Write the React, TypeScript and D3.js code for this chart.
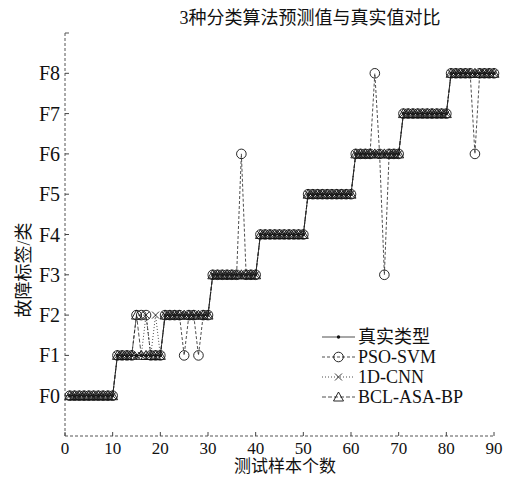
import React from 'react';
import * as d3 from 'd3';

// sample numbers 1..90 on the x axis
const samples = d3.range(1, 91);

const classLabels = ['F0', 'F1', 'F2', 'F3', 'F4', 'F5', 'F6', 'F7', 'F8'];
const xTicks = [0, 10, 20, 30, 40, 50, 60, 70, 80, 90];

const trueType = [
  0, 0, 0, 0, 0, 0, 0, 0, 0, 0,
  1, 1, 1, 1, 1, 1, 1, 1, 1, 1,
  2, 2, 2, 2, 2, 2, 2, 2, 2, 2,
  3, 3, 3, 3, 3, 3, 3, 3, 3, 3,
  4, 4, 4, 4, 4, 4, 4, 4, 4, 4,
  5, 5, 5, 5, 5, 5, 5, 5, 5, 5,
  6, 6, 6, 6, 6, 6, 6, 6, 6, 6,
  7, 7, 7, 7, 7, 7, 7, 7, 7, 7,
  8, 8, 8, 8, 8, 8, 8, 8, 8, 8,
];

const psoSvm = [
  0, 0, 0, 0, 0, 0, 0, 0, 0, 0,
  1, 1, 1, 1, 2, 2, 2, 1, 1, 1,
  2, 2, 2, 2, 1, 2, 2, 1, 2, 2,
  3, 3, 3, 3, 3, 3, 6, 3, 3, 3,
  4, 4, 4, 4, 4, 4, 4, 4, 4, 4,
  5, 5, 5, 5, 5, 5, 5, 5, 5, 5,
  6, 6, 6, 6, 8, 6, 3, 6, 6, 6,
  7, 7, 7, 7, 7, 7, 7, 7, 7, 7,
  8, 8, 8, 8, 8, 6, 8, 8, 8, 8,
];

const cnn1d = [
  0, 0, 0, 0, 0, 0, 0, 0, 0, 0,
  1, 1, 1, 1, 1, 1, 2, 1, 2, 1,
  2, 2, 2, 2, 2, 2, 2, 2, 2, 2,
  3, 3, 3, 3, 3, 3, 3, 3, 3, 3,
  4, 4, 4, 4, 4, 4, 4, 4, 4, 4,
  5, 5, 5, 5, 5, 5, 5, 5, 5, 5,
  6, 6, 6, 6, 6, 6, 6, 6, 6, 6,
  7, 7, 7, 7, 7, 7, 7, 7, 7, 7,
  8, 8, 8, 8, 8, 8, 8, 8, 8, 8,
];

const bclAsaBp = [
  0, 0, 0, 0, 0, 0, 0, 0, 0, 0,
  1, 1, 1, 1, 2, 1, 1, 1, 1, 1,
  2, 2, 2, 2, 2, 2, 2, 2, 2, 2,
  3, 3, 3, 3, 3, 3, 3, 3, 3, 3,
  4, 4, 4, 4, 4, 4, 4, 4, 4, 4,
  5, 5, 5, 5, 5, 5, 5, 5, 5, 5,
  6, 6, 6, 6, 6, 6, 6, 6, 6, 6,
  7, 7, 7, 7, 7, 7, 7, 7, 7, 7,
  8, 8, 8, 8, 8, 8, 8, 8, 8, 8,
];

const serif = '"Liberation Serif", "Times New Roman", "Noto Sans CJK SC", serif';

const series = [
  { name: '真实类型', values: trueType, dash: null, marker: 'dot' },
  { name: 'PSO-SVM', values: psoSvm, dash: '3,2', marker: 'circle' },
  { name: '1D-CNN', values: cnn1d, dash: '1,2', marker: 'cross' },
  { name: 'BCL-ASA-BP', values: bclAsaBp, dash: '4,2', marker: 'triangle' },
];

const Marker = ({ type, x, y }) => {
  if (type === 'dot') return <circle cx={x} cy={y} r={1.7} fill="#111" />;
  if (type === 'circle')
    return <circle cx={x} cy={y} r={4.8} fill="none" stroke="#111" strokeWidth={0.9} />;
  if (type === 'cross')
    return (
      <path
        d={`M${x - 3.5},${y - 3.5}L${x + 3.5},${y + 3.5}M${x - 3.5},${y + 3.5}L${x + 3.5},${y - 3.5}`}
        stroke="#222"
        strokeWidth={0.9}
      />
    );
  return (
    <path
      d={`M${x},${y - 5}L${x + 5},${y + 4}L${x - 5},${y + 4}Z`}
      fill="none"
      stroke="#111"
      strokeWidth={0.9}
    />
  );
};

const App = () => {
  const width = 509;
  const height = 478;
  const x = d3.scaleLinear().domain([0, 90]).range([65, 494]);
  const y = d3.scaleLinear().domain([-1, 9]).range([436, 33]);

  const line = d3
    .line<number>()
    .x((d, i) => x(samples[i]))
    .y((d) => y(d));

  return (
    <svg
      width={width}
      height={height}
      style={{ position: 'absolute', left: 0, top: 0, background: '#fff' }}
    >
      <text x={310} y={24} textAnchor="middle" fontSize={18} fontFamily={serif} fill="#111">
        3种分类算法预测值与真实值对比
      </text>

      {/* axes */}
      <line x1={x(0)} x2={x(0)} y1={y(9)} y2={y(-1)} stroke="#555" strokeDasharray="3,2" />
      <line x1={x(0)} x2={x(90)} y1={y(-1)} y2={y(-1)} stroke="#555" strokeDasharray="3,2" />
      <line x1={x(0)} x2={x(0) + 4} y1={y(9)} y2={y(9)} stroke="#555" />
      {classLabels.map((c, i) => (
        <g key={c}>
          <line x1={x(0)} x2={x(0) + 4} y1={y(i)} y2={y(i)} stroke="#444" />
          <text
            x={60}
            y={y(i)}
            dy="0.35em"
            textAnchor="end"
            fontSize={20}
            fontFamily={serif}
            fill="#111"
          >
            {c}
          </text>
        </g>
      ))}
      {xTicks.map((t) => (
        <g key={t}>
          <line x1={x(t)} x2={x(t)} y1={y(-1)} y2={y(-1) - 4} stroke="#444" />
          <text x={x(t)} y={454} textAnchor="middle" fontSize={17} fontFamily={serif} fill="#111">
            {t}
          </text>
        </g>
      ))}
      <text x={285} y={472} textAnchor="middle" fontSize={17} fontFamily={serif} fill="#111">
        测试样本个数
      </text>
      <text
        transform="translate(30,270) rotate(-90)"
        textAnchor="middle"
        fontSize={18}
        fontFamily={serif}
        fill="#111"
      >
        故障标签/类
      </text>

      {/* series */}
      {series.map((s) => (
        <g key={s.name}>
          <path
            d={line(s.values) || ''}
            fill="none"
            stroke="#222"
            strokeWidth={0.8}
            strokeDasharray={s.dash || undefined}
          />
          {s.values.map((v, i) => (
            <Marker key={i} type={s.marker} x={x(samples[i])} y={y(v)} />
          ))}
        </g>
      ))}

      {/* legend */}
      {series.map((s, i) => {
        const ly = 337 + i * 20;
        return (
          <g key={s.name}>
            <line
              x1={322}
              x2={355}
              y1={ly}
              y2={ly}
              stroke="#222"
              strokeWidth={0.8}
              strokeDasharray={s.dash || undefined}
            />
            <Marker type={s.marker} x={338.5} y={ly} />
            <text x={358} y={ly} dy="0.35em" fontSize={18} fontFamily={serif} fill="#111">
              {s.name}
            </text>
          </g>
        );
      })}
    </svg>
  );
};

export default App;
